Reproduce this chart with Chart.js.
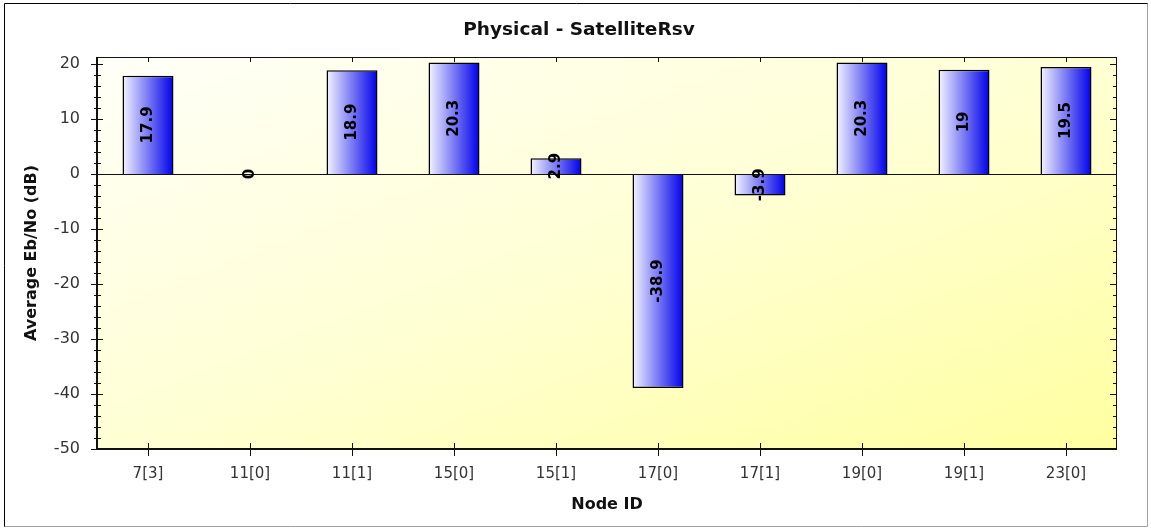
<!DOCTYPE html>
<html>
<head>
<meta charset="utf-8">
<title>Physical - SatelliteRsv</title>
<script src="https://cdn.jsdelivr.net/npm/chart.js@4.4.0/dist/chart.umd.min.js"></script>
<style>
    html, body { margin: 0; padding: 0; background: #ffffff; }
    #chartContainer { width: 1151px; height: 529px; }
</style>
</head>
<body>
<div id="chartContainer"><canvas id="barChart" width="1151" height="529"></canvas></div>
<script>
// data
const nodeIds = ['7[3]', '11[0]', '11[1]', '15[0]', '15[1]', '17[0]', '17[1]', '19[0]', '19[1]', '23[0]'];
const avgEbNo = [17.9, 0, 18.9, 20.3, 2.9, -38.9, -3.9, 20.3, 19, 19.5];
const valueLabels = ['17.9', '0', '18.9', '20.3', '2.9', '-38.9', '-3.9', '20.3', '19', '19.5'];
const yMin = -50;
const yMax = 21.3;
const yStep = 10;
const yMinorStep = 2;

const chartTitle = 'Physical - SatelliteRsv';
const xTitle = 'Node ID';
const yTitle = 'Average Eb/No (dB)';

const FONT = '"DejaVu Sans", "Liberation Sans", Arial, sans-serif';

// 막대 그라데이션 (왼쪽 밝은색 -> 오른쪽 파랑)
function barGradient(context) {
    const chart = context.chart;
    const xs = chart.scales.x;
    if (!xs || context.dataIndex === undefined) return '#6060f0';
    const cx = xs.getPixelForValue(context.dataIndex);
    const w = (xs.width / nodeIds.length) * 0.5;
    if (!isFinite(cx) || !isFinite(w) || w <= 0) return '#6060f0';
    const g = chart.ctx.createLinearGradient(cx - w / 2, 0, cx + w / 2, 0);
    g.addColorStop(0, '#f4f4ff');
    g.addColorStop(1, '#0000ea');
    return g;
}

const decorPlugin = {
    id: 'decor',
    beforeDatasetsDraw(chart) {
        const { ctx, chartArea: a } = chart;
        // 대각선 그라데이션 (영역 크기에 맞춰 늘림)
        ctx.save();
        ctx.translate(a.left, a.top);
        ctx.scale(a.right - a.left, a.bottom - a.top);
        const g = ctx.createLinearGradient(0, 0, 1, 1);
        g.addColorStop(0, '#fffff8');
        g.addColorStop(0.5, '#ffffd4');
        g.addColorStop(1, '#ffffa0');
        ctx.fillStyle = g;
        ctx.fillRect(0, 0, 1, 1);
        ctx.restore();
    },
    afterDatasetsDraw(chart) {
        const { ctx, chartArea: a, scales } = chart;
        const ys = scales.y;
        const xs = scales.x;
        ctx.save();
        ctx.strokeStyle = '#111';
        ctx.lineWidth = 1;

        // zero line
        const y0 = Math.round(ys.getPixelForValue(0)) + 0.5;
        ctx.beginPath();
        ctx.moveTo(a.left, y0);
        ctx.lineTo(a.right, y0);
        ctx.stroke();

        // frame
        ctx.strokeRect(a.left + 0.5, a.top + 0.5, a.right - a.left - 1, a.bottom - a.top - 1);
        ctx.lineWidth = 2;
        ctx.beginPath();
        ctx.moveTo(a.left, a.top);
        ctx.lineTo(a.left, a.bottom);
        ctx.lineTo(a.right, a.bottom);
        ctx.stroke();

        // y ticks, major and minor, left and right
        ctx.lineWidth = 1;
        ctx.beginPath();
        for (let v = yMin; v <= yMax; v += yMinorStep) {
            const py = Math.round(ys.getPixelForValue(v)) + 0.5;
            const major = v % yStep === 0;
            if (major) {
                ctx.moveTo(a.left - 6, py); ctx.lineTo(a.left + 6, py);
                ctx.moveTo(a.right - 7, py); ctx.lineTo(a.right, py);
            } else {
                ctx.moveTo(a.left - 3, py); ctx.lineTo(a.left + 4, py);
                ctx.moveTo(a.right - 4, py); ctx.lineTo(a.right, py);
            }
        }
        // x ticks, bottom and top
        nodeIds.forEach((id, i) => {
            const px = Math.round(xs.getPixelForValue(i)) + 0.5;
            ctx.moveTo(px, a.bottom - 6); ctx.lineTo(px, a.bottom + 7);
            ctx.moveTo(px, a.top); ctx.lineTo(px, a.top + 5);
        });
        ctx.stroke();

        // value labels, rotated, centered in the bar
        const meta = chart.getDatasetMeta(0);
        ctx.fillStyle = '#000';
        ctx.font = 'bold 15px ' + FONT;
        ctx.textAlign = 'center';
        ctx.textBaseline = 'middle';
        meta.data.forEach((bar, i) => {
            const cy = (bar.y + bar.base) / 2;
            ctx.save();
            ctx.translate(bar.x, cy);
            ctx.rotate(-Math.PI / 2);
            ctx.fillText(valueLabels[i], 0, 0);
            ctx.restore();
        });
        ctx.restore();
    },
    afterDraw(chart) {
        const { ctx, width, height } = chart;
        ctx.save();
        // outer border
        ctx.lineWidth = 1;
        ctx.strokeStyle = '#000';
        ctx.beginPath();
        ctx.moveTo(4.5, height - 2);
        ctx.lineTo(4.5, 3.5);
        ctx.lineTo(width - 3, 3.5);
        ctx.stroke();
        ctx.strokeStyle = '#a0a0a0';
        ctx.beginPath();
        ctx.moveTo(width - 3.5, 3.5);
        ctx.lineTo(width - 3.5, height - 2.5);
        ctx.lineTo(4.5, height - 2.5);
        ctx.stroke();

        // title
        ctx.fillStyle = '#111';
        ctx.font = 'bold 18.5px ' + FONT;
        ctx.textAlign = 'center';
        ctx.textBaseline = 'middle';
        ctx.fillText(chartTitle, 579, 30);
        ctx.restore();
    }
};

const ctx = document.getElementById('barChart').getContext('2d');
const barChart = new Chart(ctx, {
    type: 'bar',
    data: {
        labels: nodeIds,
        datasets: [{
            label: yTitle,
            data: avgEbNo,
            backgroundColor: barGradient,
            borderColor: '#000',
            borderWidth: 1.5,
            barPercentage: 0.5,
            categoryPercentage: 1.0,
        }],
    },
    options: {
        responsive: false,
        animation: false,
        devicePixelRatio: 1,
        layout: {
            padding: { left: 0, right: 34, top: 57, bottom: 0 },
        },
        plugins: {
            legend: { display: false },
            title: { display: false },
            tooltip: { enabled: false },
        },
        scales: {
            x: {
                offset: true,
                grid: { display: false, drawTicks: false, tickLength: 0 },
                border: { display: false },
                ticks: {
                    color: '#333',
                    font: { family: FONT, size: 15 },
                    padding: 16,
                    maxRotation: 0,
                    autoSkip: false,
                },
                title: {
                    display: true,
                    text: xTitle,
                    color: '#111',
                    font: { family: FONT, size: 16, weight: 'bold' },
                    padding: { top: 0, bottom: 15 },
                },
                afterFit(scale) { scale.height = 80; },
            },
            y: {
                min: yMin,
                max: yMax,
                grid: { display: false, drawTicks: false, tickLength: 0 },
                border: { display: false },
                ticks: {
                    stepSize: yStep,
                    includeBounds: false,
                    color: '#333',
                    font: { family: FONT, size: 16 },
                    padding: 17,
                },
                title: {
                    display: true,
                    text: yTitle,
                    color: '#111',
                    font: { family: FONT, size: 16, weight: 'bold' },
                    padding: { top: 22, bottom: 0 },
                },
                afterFit(scale) { scale.width = 97; },
            },
        },
    },
    plugins: [decorPlugin],
});
</script>
</body>
</html>
